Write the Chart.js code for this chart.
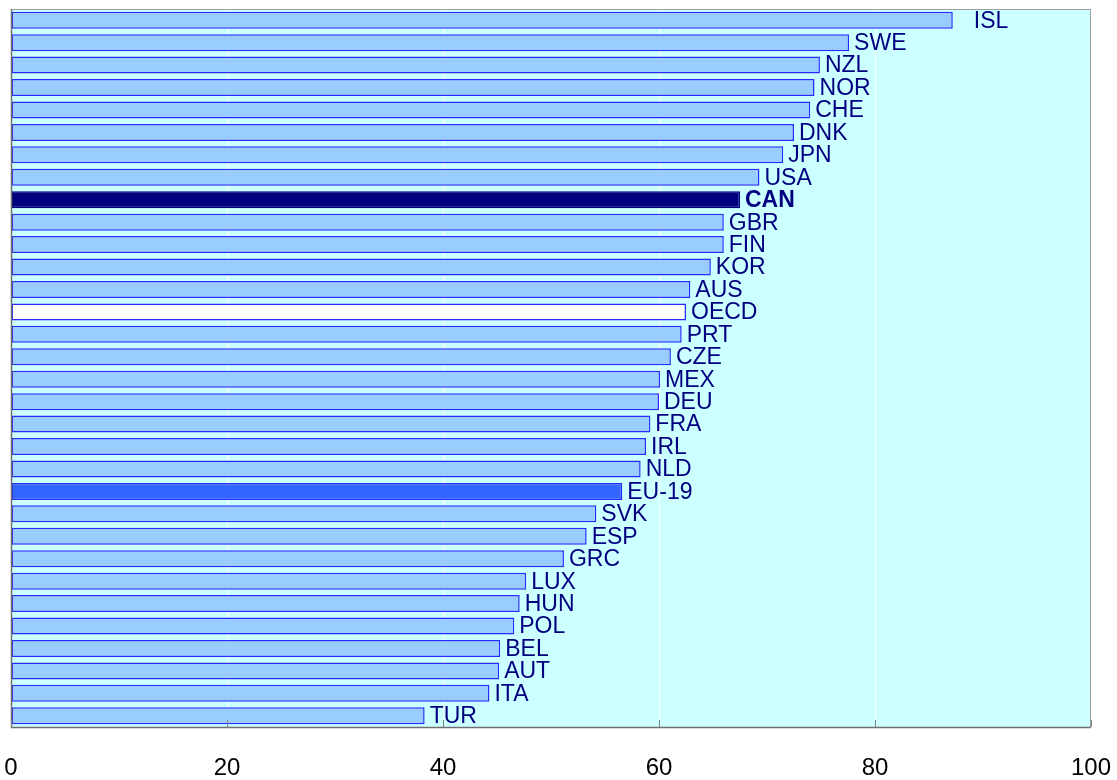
<!DOCTYPE html>
<html>
<head>
<meta charset="utf-8">
<title>Bar chart</title>
<script src="https://cdn.jsdelivr.net/npm/chart.js@4"></script>
<style>
  body { margin: 0; background: #ffffff; }
  #wrap { width: 1117px; height: 780px; }
</style>
</head>
<body>
<div id="wrap"><canvas id="barChart" width="1117" height="780"></canvas></div>
<script>
// Data
const countries = ["ISL", "SWE", "NZL", "NOR", "CHE", "DNK", "JPN", "USA", "CAN", "GBR", "FIN", "KOR", "AUS", "OECD", "PRT", "CZE", "MEX", "DEU", "FRA", "IRL", "NLD", "EU-19", "SVK", "ESP", "GRC", "LUX", "HUN", "POL", "BEL", "AUT", "ITA", "TUR"];
const values = [87.2, 77.6, 74.9, 74.4, 74.0, 72.5, 71.5, 69.3, 67.5, 66.0, 66.0, 64.8, 62.9, 62.5, 62.1, 61.1, 60.1, 60.0, 59.2, 58.8, 58.3, 56.6, 54.2, 53.3, 51.2, 47.7, 47.1, 46.6, 45.3, 45.2, 44.3, 38.3];
const xTicks = [0, 20, 40, 60, 80, 100];

const FONT = "'Liberation Sans', Arial, sans-serif";

// Colours per bar
function fillFor(c) {
  if (c === "CAN") return "#000080";
  if (c === "OECD") return "#ffffff";
  if (c === "EU-19") return "#3366ff";
  return "#99ccff";
}
function borderFor(c) {
  if (c === "CAN") return "#000080";
  return "#2a2aff";
}

// Plot background, frame and bottom tick marks
const framePlugin = {
  id: "frame",
  beforeDraw(chart) {
    const { ctx, chartArea: a } = chart;
    ctx.save();
    ctx.fillStyle = "#ccffff";
    ctx.fillRect(a.left, a.top, a.right - a.left, a.bottom - a.top);
    ctx.restore();
  },
  afterDatasetsDraw(chart) {
    const { ctx, chartArea: a } = chart;
    const xs = chart.scales.x;
    ctx.save();
    ctx.strokeStyle = "#a0a0a0";
    ctx.lineWidth = 1;
    ctx.strokeRect(a.left + 0.5, a.top + 0.5, a.right - a.left - 1, a.bottom - a.top);
    ctx.strokeStyle = "#707070";
    ctx.lineWidth = 1.5;
    ctx.beginPath();
    ctx.moveTo(a.left + 0.5, a.top);
    ctx.lineTo(a.left + 0.5, a.bottom + 0.5);
    ctx.lineTo(a.right, a.bottom + 0.5);
    ctx.stroke();
    ctx.strokeStyle = "#808080";
    ctx.lineWidth = 1;
    xTicks.forEach((t) => {
      const px = Math.round(xs.getPixelForValue(t)) + 0.5;
      ctx.beginPath();
      ctx.moveTo(px, a.bottom);
      ctx.lineTo(px, a.bottom - 7);
      ctx.stroke();
    });
    ctx.restore();
  },
};

// Country labels at the end of each bar
const labelPlugin = {
  id: "barLabels",
  afterDatasetsDraw(chart) {
    const { ctx } = chart;
    const meta = chart.getDatasetMeta(0);
    ctx.save();
    ctx.fillStyle = "#000080";
    ctx.textBaseline = "middle";
    ctx.textAlign = "left";
    meta.data.forEach((bar, i) => {
      const name = countries[i];
      ctx.font = (name === "CAN" ? "bold " : "") + "23px " + FONT;
      // ISL label sits further out in the original
      const gap = name === "ISL" ? 21 : 5;
      ctx.fillText(name, bar.x + gap, bar.y + 1);
    });
    ctx.restore();
  },
};

document.addEventListener("DOMContentLoaded", function () {
  const barCtx = document.getElementById("barChart");
  new Chart(barCtx, {
    type: "bar",
    data: {
      labels: countries,
      datasets: [
        {
          data: values,
          backgroundColor: countries.map(fillFor),
          borderColor: countries.map(borderFor),
          borderWidth: 1.5,
          borderSkipped: false,
          categoryPercentage: 1,
          barPercentage: 0.76,
        },
      ],
    },
    options: {
      indexAxis: "y",
      responsive: false,
      animation: false,
      layout: {
        padding: { left: 11, right: 26, top: 9, bottom: 0 },
      },
      plugins: {
        legend: { display: false },
        tooltip: { enabled: false },
      },
      scales: {
        x: {
          min: 0,
          max: 100,
          afterBuildTicks(scale) {
            scale.ticks = xTicks.map((v) => ({ value: v }));
          },
          afterFit(scale) {
            // keep the plot the same size as the original
            scale.height = 53;
            scale.paddingLeft = 0;
            scale.paddingRight = 0;
            scale.paddingTop = 0;
            scale.paddingBottom = 0;
          },
          grid: {
            color: "#ffffff",
            lineWidth: 1,
            drawTicks: false,
          },
          border: { display: false },
          ticks: {
            padding: 27,
            color: "#000000",
            maxRotation: 0,
            font: { family: FONT, size: 24 },
          },
        },
        y: {
          display: false,
        },
      },
    },
    plugins: [framePlugin, labelPlugin],
  });
});
</script>
</body>
</html>
